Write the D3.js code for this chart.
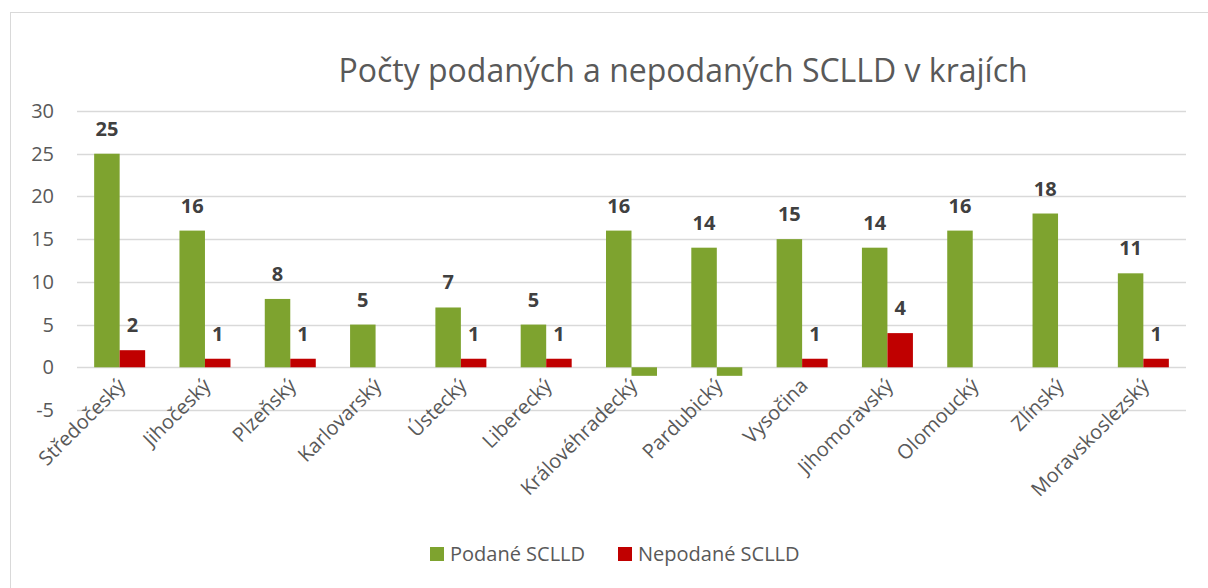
<!DOCTYPE html>
<html>
<head>
<meta charset="utf-8">
<script src="https://cdn.jsdelivr.net/npm/d3@7"></script>
<style>
  body { margin: 0; background: #fff; }
  text { font-family: "Open Sans", "Noto Sans", sans-serif; }
</style>
</head>
<body>
<div id="chart"></div>
<script>
var kraje = ["Středočeský", "Jihočeský", "Plzeňský", "Karlovarský", "Ústecký", "Liberecký",
  "Královéhradecký", "Pardubický", "Vysočina", "Jihomoravský", "Olomoucký", "Zlínský", "Moravskoslezský"];
var podane = [25, 16, 8, 5, 7, 5, 16, 14, 15, 14, 16, 18, 11];
var nepodane = [2, 1, 1, null, 1, 1, -1, -1, 1, 4, null, null, 1];
var yTicks = [-5, 0, 5, 10, 15, 20, 25, 30];
var seriesNames = ["Podané SCLLD", "Nepodané SCLLD"];

var GREEN = "#7ea32f", RED = "#c00000";
var W = 1208, H = 588;
var svg = d3.select("#chart").append("svg").attr("width", W).attr("height", H);

// frame
svg.append("rect").attr("x", 10.5).attr("y", 12.5).attr("width", W + 10).attr("height", H + 10)
  .attr("fill", "none").attr("stroke", "#d9d9d9");

svg.append("text").attr("x", 683).attr("y", 82).attr("text-anchor", "middle")
  .attr("font-size", 32).attr("fill", "#595959")
  .text("Počty podaných a nepodaných SCLLD v krajích");

var x = d3.scaleBand().domain(kraje).range([77, 1186]);
var y = d3.scaleLinear().domain([-5, 30]).range([410, 111]);
var barW = 25.5;

// gridlines
svg.append("g").selectAll("line").data(yTicks).enter().append("line")
  .attr("x1", 77).attr("x2", 1186)
  .attr("y1", function(d){ return Math.round(y(d)) + 0.5; })
  .attr("y2", function(d){ return Math.round(y(d)) + 0.5; })
  .attr("stroke", "#d9d9d9").attr("stroke-width", 1.5);

// y axis labels
svg.append("g").selectAll("text").data(yTicks).enter().append("text")
  .attr("x", 54).attr("y", function(d){ return y(d) + 7; })
  .attr("text-anchor", "end").attr("font-size", 20).attr("fill", "#595959")
  .text(function(d){ return d; });

function cx(k){ return x(k) + x.bandwidth() / 2; }

var rows = kraje.map(function(k, i){ return {k: k, p: podane[i], n: nepodane[i]}; });

// bars
svg.append("g").selectAll("rect").data(rows).enter().append("rect")
  .attr("x", function(d){ return cx(d.k) - barW; })
  .attr("y", function(d){ return y(Math.max(0, d.p)); })
  .attr("width", barW)
  .attr("height", function(d){ return Math.abs(y(d.p) - y(0)); })
  .attr("fill", GREEN);

svg.append("g").selectAll("rect").data(rows.filter(function(d){ return d.n != null; })).enter().append("rect")
  .attr("x", function(d){ return cx(d.k); })
  .attr("y", function(d){ return y(Math.max(0, d.n)); })
  .attr("width", barW)
  .attr("height", function(d){ return Math.abs(y(d.n) - y(0)); })
  .attr("fill", function(d){ return d.n < 0 ? GREEN : RED; });

// data labels
svg.append("g").selectAll("text").data(rows).enter().append("text")
  .attr("x", function(d){ return cx(d.k) - barW / 2; })
  .attr("y", function(d){ return y(d.p) - 18; })
  .attr("text-anchor", "middle").attr("font-size", 20).attr("font-weight", "bold").attr("fill", "#404040")
  .text(function(d){ return d.p; });

svg.append("g").selectAll("text").data(rows.filter(function(d){ return d.n != null && d.n > 0; })).enter().append("text")
  .attr("x", function(d){ return cx(d.k) + barW / 2; })
  .attr("y", function(d){ return y(d.n) - 18; })
  .attr("text-anchor", "middle").attr("font-size", 20).attr("font-weight", "bold").attr("fill", "#404040")
  .text(function(d){ return d.n; });

// category labels
svg.append("g").selectAll("text").data(kraje).enter().append("text")
  .attr("transform", function(d){ return "translate(" + (cx(d) + 7) + ",387) rotate(-45)"; })
  .attr("text-anchor", "end").attr("font-size", 20).attr("fill", "#595959")
  .text(function(d){ return d; });

// legend
var leg = svg.append("g");
var legX = [430, 618];
seriesNames.forEach(function(s, i){
  leg.append("rect").attr("x", legX[i]).attr("y", 547).attr("width", 14).attr("height", 14)
    .attr("fill", i == 0 ? GREEN : RED);
  leg.append("text").attr("x", legX[i] + 20).attr("y", 561).attr("font-size", 20).attr("fill", "#595959").text(s);
});
</script>
</body>
</html>
